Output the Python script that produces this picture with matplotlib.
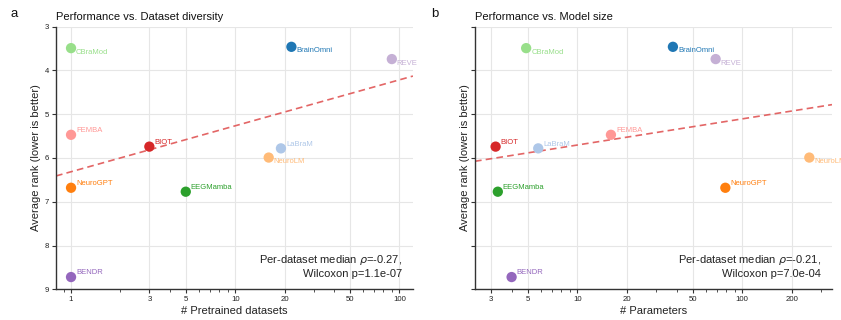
import numpy as np
import matplotlib
matplotlib.use("Agg")
import matplotlib.pyplot as plt

plt.rcParams['font.family'] = ['Liberation Sans', 'DejaVu Sans']

models = ["CBraMod", "BrainOmni", "REVE", "FEMBA", "BIOT", "LaBraM",
          "NeuroLM", "NeuroGPT", "EEGMamba", "BENDR"]
avg_rank = [3.49, 3.46, 3.74, 5.47, 5.74, 5.78, 5.99, 6.68, 6.77, 8.72]
n_datasets = [1, 22, 90, 1, 3, 19, 16, 1, 5, 1]
n_params = [4.9, 38, 69, 16, 3.2, 5.8, 255, 79, 3.3, 4.0]
colors = ["#98df8a", "#1f77b4", "#c5b0d5", "#ff9896", "#d62728", "#aec7e8",
          "#ffbb78", "#ff7f0e", "#2ca02c", "#9467bd"]
label_below = [True, True, True, False, False, False, True, False, False, False]

panels = [
    dict(letter="a", title="Performance vs. Dataset diversity", x=n_datasets,
         xlabel="# Pretrained datasets", xlim=(0.81, 121),
         xticks=[1, 3, 5, 10, 20, 50, 100],
         stat="Per-dataset median $\\rho$=-0.27,\nWilcoxon p=1.1e-07"),
    dict(letter="b", title="Performance vs. Model size", x=n_params,
         xlabel="# Parameters", xlim=(2.4, 350),
         xticks=[3, 5, 10, 20, 50, 100, 200],
         stat="Per-dataset median $\\rho$=-0.21,\nWilcoxon p=7.0e-04"),
]

fig = plt.figure(figsize=(8.41, 3.2), dpi=100)
positions = [[0.0666, 0.0959, 0.4244, 0.8207], [0.5648, 0.0959, 0.4245, 0.8207]]
letter_x = [0.013, 0.513]
ylabel_pad = [3.0, -1.5]

for i, p in enumerate(panels):
    ax = fig.add_axes(positions[i])
    ax.set_xscale("log")
    ax.set_xlim(*p["xlim"])
    ax.set_ylim(9, 3)
    ax.grid(True, which="major", color="#e6e6e6", lw=0.8, zorder=0)
    ax.set_axisbelow(True)
    for s in ["top", "right"]:
        ax.spines[s].set_visible(False)
    for s in ["left", "bottom"]:
        ax.spines[s].set_color("#333333")
        ax.spines[s].set_linewidth(1.0)

    xs = np.array(p["x"], dtype=float)
    ys = np.array(avg_rank)
    # trend line (fit in log-x)
    k, b = np.polyfit(np.log10(xs), ys, 1)
    xl = np.logspace(np.log10(p["xlim"][0]), np.log10(p["xlim"][1]), 100)
    ax.plot(xl, k * np.log10(xl) + b, ls=(0, (4, 2.5)), color="#e05555",
            lw=1.2, alpha=0.9, zorder=2)

    ax.scatter(xs, ys, s=55, c=colors, zorder=3, edgecolors="none")
    for m, xv, yv, c, below in zip(models, xs, ys, colors, label_below):
        ax.annotate(m, (xv, yv), xytext=(3.6, -3.0 if below else 3.0),
                    textcoords="offset points", fontsize=5.5, color=c,
                    ha="left", va="center", zorder=4, annotation_clip=False)

    ax.set_xticks(p["xticks"])
    ax.set_xticklabels([str(t) for t in p["xticks"]])
    ax.set_yticks([3, 4, 5, 6, 7, 8, 9])
    if i == 0:
        ax.set_yticklabels([str(t) for t in [3, 4, 5, 6, 7, 8, 9]])
    else:
        ax.set_yticklabels([])
    ax.tick_params(axis="both", which="major", labelsize=5.6, length=3,
                   width=0.8, pad=2, color="#333333", labelcolor="#222222")
    ax.tick_params(axis="x", which="minor", length=1.8, width=0.6,
                   color="#333333")
    ax.set_xlabel(p["xlabel"], fontsize=8, labelpad=2, color="#222222")
    ax.set_ylabel("Average rank (lower is better)", fontsize=8,
                  labelpad=ylabel_pad[i], color="#222222")
    ax.set_title(p["title"], loc="left", fontsize=8, pad=5, color="#111111")
    ax.text(0.97, 0.04, p["stat"], transform=ax.transAxes, ha="right",
            va="bottom", fontsize=8, color="#222222", linespacing=1.2)
    fig.text(letter_x[i], 0.955, p["letter"], fontsize=9.5, ha="left",
             va="center", color="#111111")

fig.savefig("out.png", dpi=100)
